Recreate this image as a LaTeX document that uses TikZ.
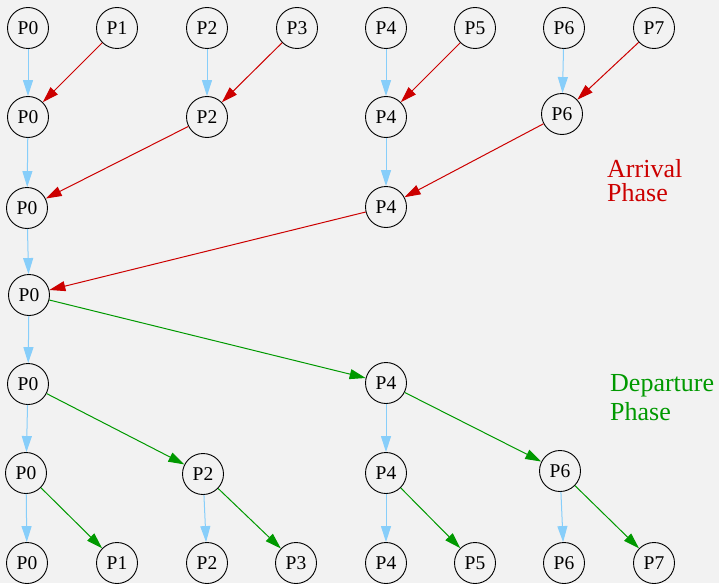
\documentclass[tikz,border=0pt]{standalone}
\usepackage{fontspec}
\setmainfont{Liberation Serif}
\usetikzlibrary{arrows.meta}
\definecolor{bg}{HTML}{F2F2F2}
\definecolor{lblue}{HTML}{87CEFA}
\definecolor{ared}{HTML}{CC0000}
\definecolor{dgreen}{HTML}{009900}
\begin{document}
\begin{tikzpicture}[x=1pt,y=-1pt,
  proc/.style={circle,draw=black,line width=0.9pt,minimum size=41pt,inner sep=0pt,
    font=\fontsize{19.5}{19.5}\selectfont},
  edge/.style={-{Triangle[length=16pt,width=10pt]},line width=1pt},
  keep/.style={edge,color=lblue},
  arrive/.style={edge,color=ared},
  depart/.style={edge,color=dgreen},
  phase/.style={anchor=base west,inner sep=0pt,align=left}
]
\fill[bg] (0,0) rectangle (719,583);
\useasboundingbox (0,0) rectangle (719,583);

% row 0
\node[proc] (a0) at (28,28) {P0};
\node[proc] (a1) at (117,28) {P1};
\node[proc] (a2) at (207,28) {P2};
\node[proc] (a3) at (297,28) {P3};
\node[proc] (a4) at (386,28) {P4};
\node[proc] (a5) at (475,28) {P5};
\node[proc] (a6) at (564,28) {P6};
\node[proc] (a7) at (654,28) {P7};
% row 1
\node[proc] (b0) at (28,117) {P0};
\node[proc] (b2) at (207,117) {P2};
\node[proc] (b4) at (386,117) {P4};
\node[proc] (b6) at (562,114) {P6};
% row 2
\node[proc] (c0) at (27,208) {P0};
\node[proc] (c4) at (386,207) {P4};
% row 3
\node[proc] (d0) at (29,295) {P0};
% row 4
\node[proc] (e0) at (28,384) {P0};
\node[proc] (e4) at (386,383) {P4};
% row 5
\node[proc] (f0) at (26,473) {P0};
\node[proc] (f2) at (203,474) {P2};
\node[proc] (f4) at (386,473) {P4};
\node[proc] (f6) at (560,471) {P6};
% row 6
\node[proc] (g0) at (27,563) {P0};
\node[proc] (g1) at (117,563) {P1};
\node[proc] (g2) at (207,563) {P2};
\node[proc] (g3) at (296,563) {P3};
\node[proc] (g4) at (386,563) {P4};
\node[proc] (g5) at (475,563) {P5};
\node[proc] (g6) at (564,563) {P6};
\node[proc] (g7) at (654,563) {P7};

% arrival phase
\draw[keep] (a0) -- (b0);
\draw[keep] (a2) -- (b2);
\draw[keep] (a4) -- (b4);
\draw[keep] (a6) -- (b6);
\draw[arrive] (a1) -- (b0);
\draw[arrive] (a3) -- (b2);
\draw[arrive] (a5) -- (b4);
\draw[arrive] (a7) -- (b6);
\draw[keep] (b0) -- (c0);
\draw[keep] (b4) -- (c4);
\draw[arrive] (b2) -- (c0);
\draw[arrive] (b6) -- (c4);
\draw[keep] (c0) -- (d0);
\draw[arrive] (c4) -- (d0);

% departure phase
\draw[keep] (d0) -- (e0);
\draw[depart] (d0) -- (e4);
\draw[keep] (e0) -- (f0);
\draw[depart] (e0) -- (f2);
\draw[keep] (e4) -- (f4);
\draw[depart] (e4) -- (f6);
\draw[keep] (f0) -- (g0);
\draw[depart] (f0) -- (g1);
\draw[keep] (f2) -- (g2);
\draw[depart] (f2) -- (g3);
\draw[keep] (f4) -- (g4);
\draw[depart] (f4) -- (g5);
\draw[keep] (f6) -- (g6);
\draw[depart] (f6) -- (g7);

% labels (base anchor = baseline of the last line)
\node[phase,text=ared,font=\fontsize{26}{24}\selectfont] (arrival) at (607,201) {Arrival\\Phase};
\node[phase,text=dgreen,font=\fontsize{26}{29}\selectfont] (departure) at (610,420) {Departure\\Phase};
\end{tikzpicture}
\end{document}
